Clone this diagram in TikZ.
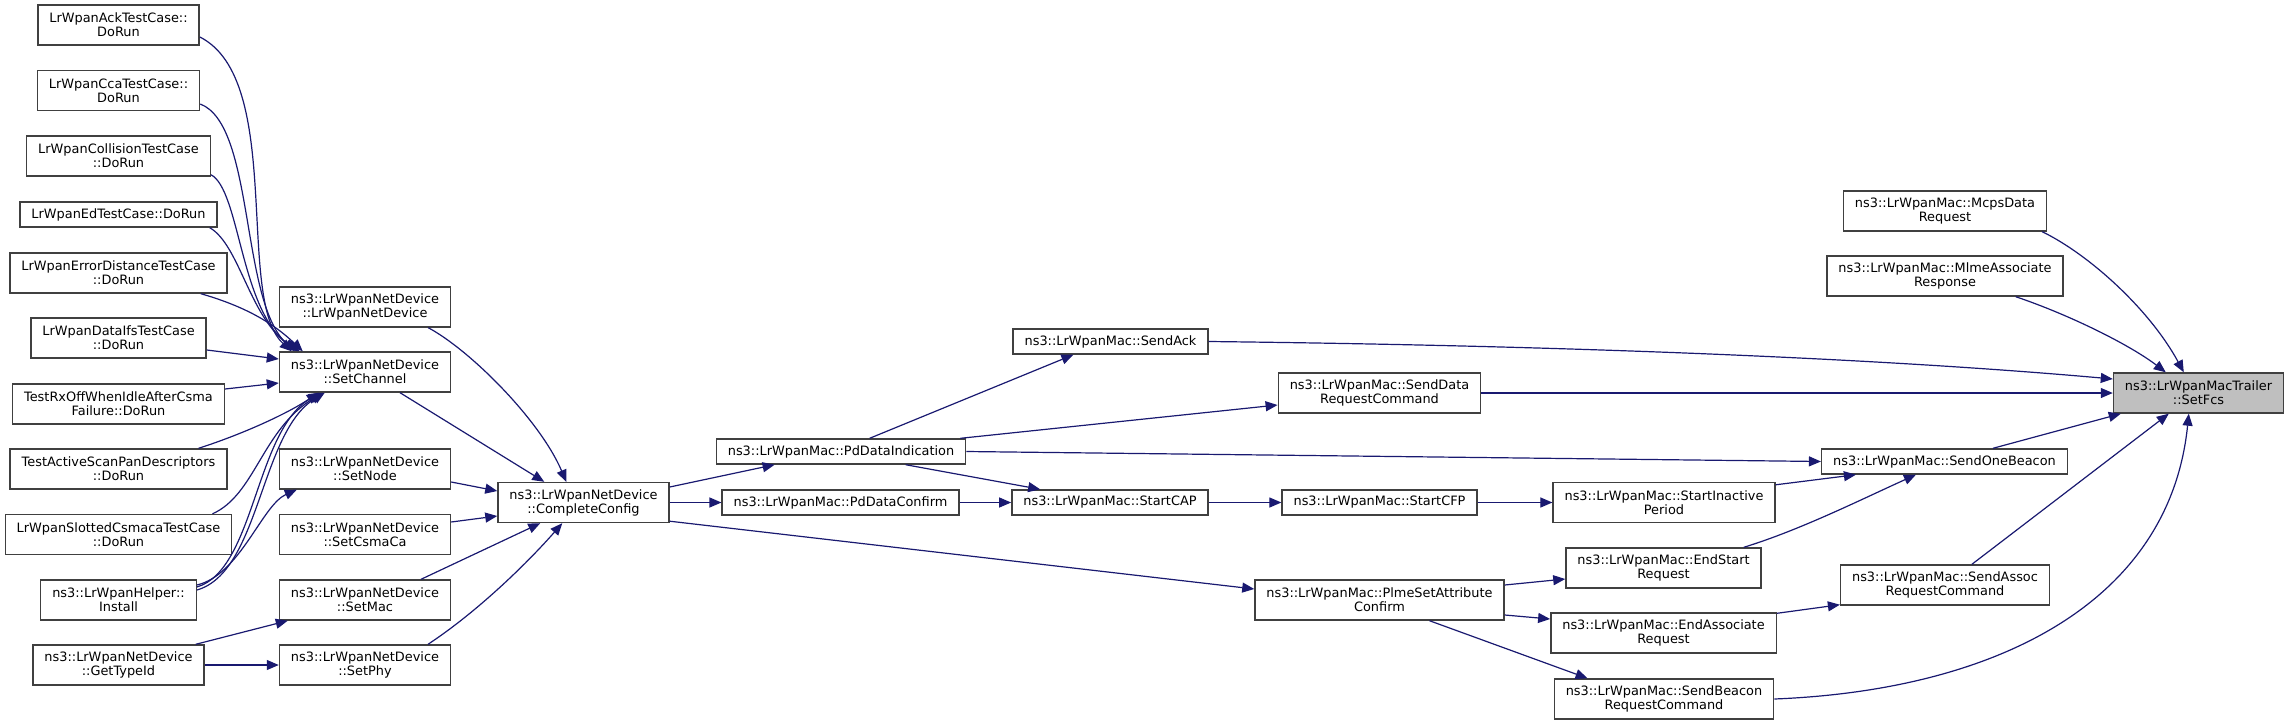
\documentclass[tikz,border=0pt]{standalone}
\usepackage{fontspec}
\setmainfont{DejaVu Sans}
\usetikzlibrary{arrows.meta,calc}
\definecolor{edgeblue}{HTML}{191970}
\tikzset{
  fn/.style={draw=black!75,line width=0.7pt,fill=white,align=center,
    font=\fontsize{6.45}{7}\selectfont,inner xsep=5.75pt,inner ysep=0pt,
    minimum height=20pt},
  fnone/.style={fn,minimum height=12.5pt},
  fncur/.style={fn,fill=black!25},
  call/.style={edgeblue,line width=0.6pt,-{Triangle[length=6pt,width=5pt]}},
}
\begin{document}
\begin{tikzpicture}[x=0.5pt,y=-0.5pt]
\useasboundingbox (0,0) rectangle (2288,724);
% callers on the left
\foreach \n/\y/\t in {ack/25/{LrWpanAckTestCase::\\DoRun},
  cca/90.5/{LrWpanCcaTestCase::\\DoRun},
  coll/156/{LrWpanCollisionTestCase\\::DoRun},
  errdist/273/{LrWpanErrorDistanceTestCase\\::DoRun},
  ifs/338/{LrWpanDataIfsTestCase\\::DoRun},
  rxoff/404/{TestRxOffWhenIdleAfterCsma\\Failure::DoRun},
  scan/469/{TestActiveScanPanDescriptors\\::DoRun},
  slotted/534.5/{LrWpanSlottedCsmacaTestCase\\::DoRun},
  install/600/{ns3::LrWpanHelper::\\Install},
  typeid/665/{ns3::LrWpanNetDevice\\::GetTypeId}}
  \node[fn] (\n) at (118.5,\y) {\t};
\node[fnone] (ed) at (118.5,214.5) {LrWpanEdTestCase::DoRun};
% net device
\foreach \n/\y/\t in {ctor/307/LrWpanNetDevice,setchan/372/SetChannel,
  setnode/469/SetNode,setcsma/534.5/SetCsmaCa,setmac/600/SetMac,setphy/665/SetPhy}
  \node[fn] (\n) at (365,\y) {ns3::LrWpanNetDevice\\::\t};
\node[fn] (config) at (583.5,502.5) {ns3::LrWpanNetDevice\\::CompleteConfig};
% mac
\node[fnone] (pdind) at (841,451.5) {ns3::LrWpanMac::PdDataIndication};
\node[fnone] (pdconf) at (840.5,502.5) {ns3::LrWpanMac::PdDataConfirm};
\node[fnone] (sendack) at (1110.5,341.5) {ns3::LrWpanMac::SendAck};
\node[fnone] (startcap) at (1110,502.5) {ns3::LrWpanMac::StartCAP};
\node[fn] (senddata) at (1379.5,393) {ns3::LrWpanMac::SendData\\RequestCommand};
\node[fnone] (startcfp) at (1379.5,502.5) {ns3::LrWpanMac::StartCFP};
\node[fn] (plme) at (1379.5,600) {ns3::LrWpanMac::PlmeSetAttribute\\Confirm};
\node[fn] (inactive) at (1664,502.5) {ns3::LrWpanMac::StartInactive\\Period};
\node[fn] (endstart) at (1663.5,568) {ns3::LrWpanMac::EndStart\\Request};
\node[fn] (endassoc) at (1663.5,633) {ns3::LrWpanMac::EndAssociate\\Request};
\node[fn] (beaconreq) at (1664,699) {ns3::LrWpanMac::SendBeacon\\RequestCommand};
\node[fn] (mcps) at (1945,211) {ns3::LrWpanMac::McpsData\\Request};
\node[fn] (mlme) at (1945,276) {ns3::LrWpanMac::MlmeAssociate\\Response};
\node[fnone] (onebeacon) at (1944.5,461.5) {ns3::LrWpanMac::SendOneBeacon};
\node[fn] (sendassoc) at (1945,585) {ns3::LrWpanMac::SendAssoc\\RequestCommand};
\node[fncur] (setfcs) at (2198.5,393) {ns3::LrWpanMacTrailer\\::SetFcs};
% calls into SetChannel
\draw[call] ($(ack.east)+(0,12)$) .. controls (285,80) and (235,300) .. ($(setchan.north west)+(13,0)$);
\draw[call] ($(cca.east)+(0,13.5)$) .. controls (255,125) and (240,300) .. ($(setchan.north west)+(16,0)$);
\draw[call] ($(coll.south east)+(0,-2)$) .. controls (240,190) and (240,310) .. ($(setchan.north west)+(19,0)$);
\draw[call] ($(ed.south east)+(-8,0)$) .. controls (240,245) and (250,320) .. ($(setchan.north west)+(21,0)$);
\draw[call] ($(errdist.south east)+(-27,0)$) .. controls (240,305) and (270,320) .. ($(setchan.north west)+(24,0)$);
\draw[call] ($(ifs.east)+(0,12)$) -- ($(setchan.west)+(0,-13)$);
\draw[call] ($(rxoff.east)+(0,-15)$) -- ($(setchan.west)+(0,11)$);
\draw[call] ($(scan.north east)+(-29,0)$) .. controls (240,435) and (285,415) .. ($(setchan.south west)+(40,0)$);
\draw[call] ($(slotted.north east)+(-20,0)$) .. controls (255,495) and (262,430) .. ($(setchan.south west)+(44,0)$);
\draw[call] ($(install.east)+(0,-13)$) .. controls (255,570) and (255,430) .. ($(setchan.south west)+(42,0)$);
\draw[call] ($(install.east)+(0,-10)$) .. controls (260,572) and (260,432) .. ($(setchan.south west)+(46,0)$);
\draw[call] ($(install.east)+(0,-15)$) .. controls (240,575) and (262,505) .. ($(setnode.south west)+(18,0)$);
\draw[call] ($(typeid.north east)+(-9,0)$) -- ($(setmac.south west)+(9,0)$);
\draw[call] (typeid.east) -- (setphy.west);
% calls into CompleteConfig
\draw[call] ($(ctor.south east)+(-23,0)$) .. controls (470,350) and (540,420) .. ($(config.north west)+(69,0)$);
\draw[call] ($(setchan.south)+(35,0)$) -- ($(config.north west)+(47,0)$);
\draw[call] ($(setnode.east)+(0,13)$) -- ($(config.west)+(0,-11.5)$);
\draw[call] ($(setcsma.east)+(0,-12.5)$) -- ($(config.west)+(0,13.5)$);
\draw[call] ($(setmac.north)+(56,0)$) -- ($(config.south west)+(43,0)$);
\draw[call] ($(setphy.north)+(63,0)$) .. controls (480,610) and (530,560) .. ($(config.south west)+(65,0)$);
% mac calls
\draw[call] ($(config.east)+(0,-15.5)$) -- ($(pdind.south west)+(59,0)$);
\draw[call] (config.east) -- (pdconf.west);
\draw[call] ($(config.south east)+(0,-2)$) -- ($(plme.west)+(0,-11)$);
\draw[call] ($(pdind.north west)+(154,0)$) -- ($(sendack.south west)+(61,0)$);
\draw[call] ($(pdind.north east)+(-6,0)$) -- ($(senddata.west)+(0,12)$);
\draw[call] (pdind.east) -- (onebeacon.west);
\draw[call] ($(pdind.south west)+(190,0)$) -- ($(startcap.north west)+(29,0)$);
\draw[call] (pdconf.east) -- (startcap.west);
\draw[call] (startcap.east) -- (startcfp.west);
\draw[call] (startcfp.east) -- (inactive.west);
\draw[call] ($(inactive.north east)+(0,3)$) -- ($(onebeacon.south west)+(35,0)$);
\draw[call] ($(endstart.north east)+(-18,0)$) .. controls (1800,530) and (1860,500) .. ($(onebeacon.south west)+(95,0)$);
\draw[call] ($(plme.east)+(0,-15)$) -- ($(endstart.west)+(0,11)$);
\draw[call] ($(plme.east)+(0,15)$) -- ($(endassoc.west)+(0,-14)$);
\draw[call] ($(plme.south)+(50,0)$) -- ($(beaconreq.north west)+(34,0)$);
\draw[call] ($(endassoc.north east)+(0,1)$) -- ($(sendassoc.south west)+(0,-1)$);
% calls into SetFcs
\draw[call] ($(mcps.south east)+(-5,0)$) .. controls (2090,255) and (2150,310) .. ($(setfcs.north west)+(71,0)$);
\draw[call] ($(mlme.south east)+(-48,0)$) .. controls (2070,315) and (2130,345) .. ($(setfcs.north west)+(53,0)$);
\draw[call] (sendack.east) .. controls (1600,346) and (1900,360) .. ($(setfcs.west)+(0,-14)$);
\draw[call] (senddata.east) -- (setfcs.west);
\draw[call] ($(onebeacon.north west)+(172,0)$) -- ($(setfcs.south west)+(8,0)$);
\draw[call] ($(sendassoc.north west)+(132,0)$) -- ($(setfcs.south west)+(56,0)$);
\draw[call] (beaconreq.east) .. controls (2000,690) and (2170,600) .. ($(setfcs.south west)+(76,0)$);
\end{tikzpicture}
\end{document}
